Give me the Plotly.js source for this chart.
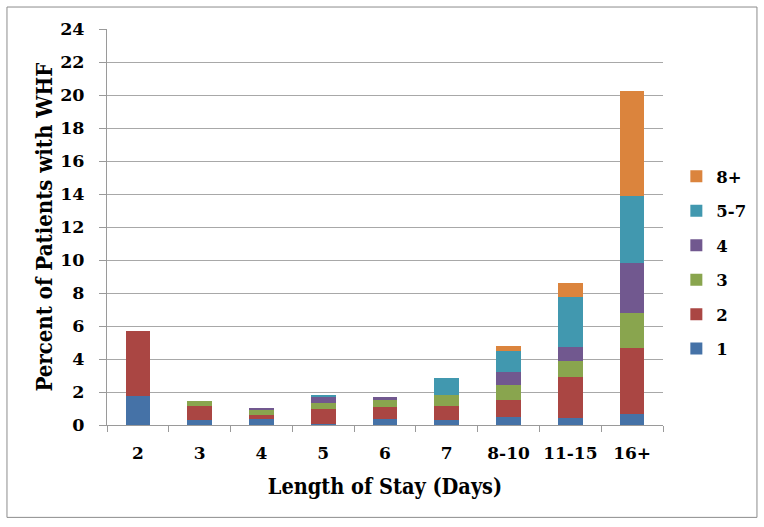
<!DOCTYPE html>
<html>
<head>
<meta charset="utf-8">
<script src="https://cdn.plot.ly/plotly-3.0.1.min.js"></script>
<style>html,body{margin:0;padding:0;background:#fff;}#chart{width:764px;height:527px;}</style>
</head>
<body>
<div id="chart"></div>
<script>
const categories = ["2", "3", "4", "5", "6", "7", "8-10", "11-15", "16+"];
const seriesNames = ["1", "2", "3", "4", "5-7", "8+"];
const s1   = [1.75, 0.28, 0.34, 0.08, 0.38, 0.30, 0.48, 0.44, 0.68];
const s2   = [3.97, 0.85, 0.24, 0.87, 0.73, 0.85, 1.01, 2.45, 3.96];
const s3   = [0.00, 0.32, 0.30, 0.36, 0.42, 0.67, 0.93, 0.98, 2.15];
const s4   = [0.00, 0.00, 0.17, 0.39, 0.17, 0.00, 0.77, 0.85, 3.00];
const s57  = [0.00, 0.00, 0.00, 0.12, 0.00, 1.03, 1.29, 3.04, 4.06];
const s8p  = [0.00, 0.00, 0.00, 0.00, 0.00, 0.00, 0.32, 0.86, 6.41];
const seriesValues = [s1, s2, s3, s4, s57, s8p];
const colors = ["#4572A7", "#AA4643", "#89A54E", "#71588F", "#4198AF", "#DB843D"];
const yTicks = [0, 2, 4, 6, 8, 10, 12, 14, 16, 18, 20, 22, 24];
const xTitle = "Length of Stay (Days)";
const yTitle = "Percent of Patients with WHF";

const fontFam = "DejaVu Serif, serif";
const titleFam = "DejaVu Serif Condensed, DejaVu Serif, serif";
const traces = seriesNames.map((name, i) => ({
  type: "bar",
  name: name,
  x: categories,
  y: seriesValues[i],
  marker: {color: colors[i], line: {width: 0}},
  legendgroup: "g" + i,
  legendrank: 1000 - i * 10,
  hoverinfo: "x+y+name"
}));

const layout = {
  width: 764, height: 527,
  margin: {l: 107, r: 101, t: 29, b: 101.5},
  paper_bgcolor: "#ffffff",
  plot_bgcolor: "#ffffff",
  barmode: "stack",
  bargap: 0.6,
  font: {family: fontFam, color: "#000", size: 16, weight: 700},
  xaxis: {
    type: "category",
    showline: true, linecolor: "#9a9a9a", linewidth: 1,
    ticks: "outside", tickson: "boundaries", ticklen: 6, tickcolor: "#9a9a9a",
    tickangle: 0,
    tickfont: {family: fontFam, size: 17, weight: 700},
    ticklabelstandoff: 13,
    showgrid: false,
    title: {text: xTitle, font: {family: titleFam, size: 21.5, weight: 700}, standoff: 16}
  },
  yaxis: {
    range: [0, 24],
    tickvals: yTicks,
    ticktext: yTicks.map(String),
    showline: true, linecolor: "#9a9a9a", linewidth: 1,
    ticks: "outside", ticklen: 7, tickcolor: "#9a9a9a",
    showgrid: true, gridcolor: "#a8a8a8", gridwidth: 1,
    zeroline: false,
    tickfont: {family: fontFam, size: 17.5, weight: 700},
    ticklabelstandoff: 11
  },
  annotations: [{
    text: yTitle, textangle: -90, showarrow: false,
    xref: "paper", yref: "paper", x: -0.114, y: 0.5,
    xanchor: "center", yanchor: "middle",
    font: {family: titleFam, size: 22, weight: 700, color: "#000"}
  }],
  legend: {
    x: 1.024, y: 0.41, xanchor: "left", yanchor: "middle",
    traceorder: "grouped",
    tracegroupgap: 10,
    font: {family: fontFam, size: 16.5, weight: 700},
    itemwidth: 30,
    bgcolor: "rgba(0,0,0,0)"
  },
  shapes: [{
    type: "rect", xref: "paper", yref: "paper",
    x0: -0.1799, x1: 1.169, y0: -0.2333, y1: 1.0555,
    line: {color: "#8c8c8c", width: 1}
  }]
};

Plotly.newPlot("chart", traces, layout, {displayModeBar: false, staticPlot: true});
</script>
</body>
</html>
